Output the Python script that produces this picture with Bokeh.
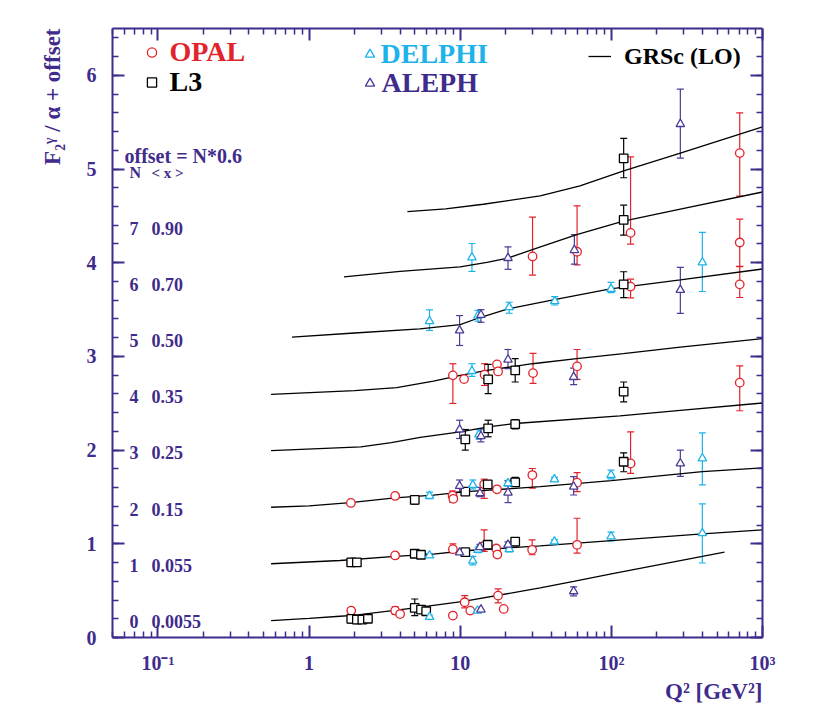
import math
from bokeh.plotting import figure
from bokeh.models import (ColumnDataSource, Whisker, TeeHead, Label, Legend, LegendItem, Title,
                          LinearAxis, LogAxis, FixedTicker, SingleIntervalTicker, Range1d,
                          CustomJSTickFormatter)
from bokeh.core.properties import value
from bokeh.embed import file_html
from bokeh.resources import INLINE

# ---------------- data (F2/alpha + offset, offset = N*0.6) ----------------
opal_q2 = [707, 30.1, 59.3, 134, 707, 134, 707,
           8.94, 10.6, 14.5, 17.5, 17.8, 30.3, 59.3, 707,
           1.89, 3.71, 8.9, 9.0, 14.4, 17.5, 30.0, 59.3, 134,
           1.9, 3.71, 8.94, 14.4, 17.3, 17.6, 29.9, 59.3,
           1.9, 2.05, 3.71, 4.0, 8.94, 10.7, 11.65, 17.8, 19.4]
opal_f2 = [5.17, 4.067, 4.117, 4.319, 4.216, 3.745, 3.769,
           2.798, 2.758, 2.805, 2.915, 2.84, 2.822, 2.894, 2.72,
           1.436, 1.511, 1.514, 1.48, 1.635, 1.582, 1.734, 1.652, 1.858,
           0.801, 0.876, 0.943, 0.979, 0.95, 0.885, 0.936, 0.989,
           0.287, 0.19, 0.287, 0.25, 0.234, 0.376, 0.287, 0.447, 0.305]
opal_eup = [0.43, 0.42, 0.49, 0.81, 0.25, 0.08, 0.19,
            0.124, 0, 0.117, 0, 0, 0.21, 0.18, 0.18,
            0, 0, 0.05, 0, 0.055, 0, 0.07, 0.107, 0.337,
            0, 0, 0.057, 0.17, 0, 0.03, 0.107, 0.284,
            0.03, 0, 0.04, 0, 0, 0.071, 0, 0.071, 0]
opal_edn = [0.46, 0.20, 0.14, 0.12, 0.255, 0.12, 0.14,
            0.30, 0, 0.115, 0, 0, 0.11, 0.14, 0.30,
            0, 0, 0.07, 0, 0.15, 0, 0.14, 0.096, 0.106,
            0, 0, 0.04, 0.06, 0, 0.03, 0.053, 0.088,
            0.03, 0, 0.04, 0, 0, 0.06, 0, 0.078, 0]

l3_q2 = [120.6, 120.6, 120.6,
         15.3, 23.1, 120.6,
         10.8, 15.3, 23.1,
         5.0, 10.8, 15.2, 23.1, 120.6,
         1.9, 2.07, 5.0, 5.5, 10.8, 15.2, 23.1,
         1.9, 2.07, 2.25, 2.45, 5.0, 5.5, 5.95]
l3_f2 = [5.114, 4.457, 3.769,
         2.755, 2.851, 2.624,
         2.114, 2.231, 2.277,
         1.468, 1.556, 1.635, 1.656, 1.876,
         0.801, 0.801, 0.894, 0.883, 0.911, 0.99, 1.024,
         0.199, 0.19, 0.19, 0.20, 0.316, 0.298, 0.28]
l3_eup = [0.213, 0.157, 0.135,
          0.16, 0.125, 0.103,
          0.106, 0.088, 0.05,
          0.045, 0, 0.04, 0.053, 0.095,
          0, 0, 0, 0, 0, 0, 0.036,
          0.035, 0, 0, 0, 0.095, 0, 0]
l3_edn = [0.207, 0.162, 0.141,
          0.152, 0.124, 0.11,
          0.114, 0.089, 0.05,
          0.045, 0, 0.04, 0.04, 0.107,
          0, 0, 0, 0, 0, 0, 0.046,
          0.043, 0, 0, 0, 0.082, 0, 0]

delphi_q2 = [11.95,
             6.26, 13.1, 21.1, 42.2, 99.5, 400,
             11.95, 13.3,
             6.26, 12.1, 20.7, 42.0, 99.5, 400,
             6.26, 12.1, 13.1, 21.1, 42.0, 99.5, 400,
             6.26, 13.0]
delphi_f2 = [4.056,
             3.376, 3.436, 3.525, 3.589, 3.72, 4.003,
             2.844, 2.167,
             1.511, 1.628, 1.646, 1.688, 1.734, 1.912,
             0.876, 0.819, 0.936, 0.943, 1.024, 1.078, 1.113,
             0.22, 0.287]
delphi_eup = [0.149,
              0.121, 0.055, 0.053, 0.05, 0.07, 0.32,
              0.078, 0.05,
              0.04, 0.053, 0.03, 0.02, 0.053, 0.272,
              0.02, 0.046, 0.03, 0.03, 0.02, 0.046, 0.313,
              0.02, 0]
delphi_edn = [0.149,
              0.099, 0.06, 0.064, 0.04, 0.04, 0.31,
              0.057, 0.05,
              0.03, 0.043, 0.03, 0.02, 0.04, 0.284,
              0.02, 0.043, 0.03, 0.03, 0.02, 0.046, 0.318,
              0.02, 0]

aleph_q2 = [286,
            20.7, 56.9,
            9.9, 13.7, 286,
            20.7, 56.3,
            9.9, 13.7,
            9.9, 13.5, 20.7, 56.3, 286,
            9.9, 13.5, 20.7,
            13.7, 56.3]
aleph_f2 = [5.48,
            4.05, 4.135,
            3.277, 3.443, 3.709,
            2.965, 2.78,
            2.22, 2.149,
            1.617, 1.539, 1.546, 1.61, 1.858,
            0.907, 0.965, 0.99,
            0.298, 0.493]
aleph_eup = [0.374,
             0.12, 0.166,
             0.159, 0.056, 0.241,
             0.109, 0.096,
             0.099, 0.078,
             0.064, 0.064, 0.124, 0.106, 0.142,
             0, 0.03, 0.03,
             0, 0.047]
aleph_edn = [0.363,
             0.12, 0.15,
             0.16, 0.079, 0.249,
             0.096, 0.08,
             0.096, 0.061,
             0.062, 0.036, 0.106, 0.089, 0.138,
             0, 0.03, 0.03,
             0, 0.048]

# GRSc (LO) curves, N = 0..7
grsc0_q2 = [0.56, 1.0, 1.6, 1.97, 5.0, 10.5, 33.8, 56.3, 100, 400, 560]
grsc0_f2 = [0.181, 0.205, 0.227, 0.237, 0.316, 0.385, 0.529, 0.599, 0.68, 0.865, 0.912]
grsc1_q2 = [0.56, 1.6, 3.7, 6.65, 10.7, 33.8, 100, 400, 1000]
grsc1_f2 = [0.787, 0.822, 0.866, 0.89, 0.926, 0.978, 1.035, 1.106, 1.149]
grsc2_q2 = [0.56, 1.0, 1.87, 3.7, 6.65, 11, 33.8, 100, 400, 1000]
grsc2_f2 = [1.39, 1.405, 1.44, 1.49, 1.52, 1.556, 1.61, 1.675, 1.77, 1.81]
grsc3_q2 = [0.56, 2.2, 3.5, 5.43, 10, 15.3, 23, 114, 286, 1000]
grsc3_f2 = [1.995, 2.035, 2.08, 2.135, 2.195, 2.248, 2.284, 2.365, 2.425, 2.503]
grsc4_q2 = [0.56, 2.0, 3.8, 6.65, 10, 15, 30, 59, 120, 286, 1000]
grsc4_f2 = [2.596, 2.635, 2.667, 2.737, 2.798, 2.851, 2.922, 2.976, 3.03, 3.10, 3.19]
grsc5_q2 = [0.77, 2.0, 5.4, 10, 13.2, 20.7, 42, 98.6, 286, 1000]
grsc5_f2 = [3.205, 3.25, 3.294, 3.34, 3.41, 3.507, 3.606, 3.72, 3.816, 3.933]
grsc6_q2 = [1.7, 4.0, 10, 15, 20.7, 30, 59, 120, 286, 1000]
grsc6_f2 = [3.85, 3.907, 3.955, 4.003, 4.05, 4.14, 4.30, 4.445, 4.571, 4.755]
grsc7_q2 = [4.47, 8.0, 14.2, 33.8, 62, 120.6, 286, 1000]
grsc7_f2 = [4.546, 4.575, 4.624, 4.713, 4.82, 4.98, 5.17, 5.45]

n_values = [0, 1, 2, 3, 4, 5, 6, 7]
x_means = ["0.0055", "0.055", "0.15", "0.25", "0.35", "0.50", "0.70", "0.90"]
offset_step = 0.6

xtick_vals = [0.1, 1, 10, 100, 1000]
xtick_text = ["10\u207b\u00b9", "1", "10", "10\u00b2", "10\u00b3"]

# ---------------- styles ----------------
SERIF = "Liberation Serif"
PURPLE = "#3f2b8c"
RED = "#e3232b"
CYAN = "#1db3ea"
ALEPH_C = "#4b3b96"
FL, FR, FT, FB = 112, 762, 28, 637  # frame edges in canvas px

p = figure(width=822, height=704, x_axis_type="log",
           x_range=Range1d(0.05, 1000), y_range=Range1d(0, 6.5),
           min_border_left=FL, min_border_right=822 - FR,
           min_border_top=FT, min_border_bottom=704 - FB,
           toolbar_location=None, output_backend="svg")
p.grid.visible = False
p.outline_line_color = None
p.background_fill_color = "white"
p.border_fill_color = "white"

minor = [m * 10.0 ** e for e in range(-2, 3) for m in range(2, 10) if m * 10.0 ** e >= 0.05]
xt = FixedTicker(ticks=xtick_vals, minor_ticks=minor)
yt = SingleIntervalTicker(interval=1, num_minor_ticks=5)
blank = CustomJSTickFormatter(code="return ''")
xfmt = CustomJSTickFormatter(args=dict(vals=xtick_vals, labs=xtick_text), code="""
for (let i = 0; i < vals.length; i++) {
  if (Math.abs(Math.log10(vals[i]) - Math.log10(tick)) < 1e-6) { return labs[i] }
}
return ''
""")


def style_axis(ax):
    ax.axis_line_color = PURPLE
    ax.axis_line_width = 2
    ax.major_tick_line_color = PURPLE
    ax.major_tick_line_width = 2
    ax.minor_tick_line_color = PURPLE
    ax.minor_tick_line_width = 1.5
    ax.major_tick_in = 12
    ax.major_tick_out = 0
    ax.minor_tick_in = 6
    ax.minor_tick_out = 0
    ax.major_label_text_font = SERIF
    ax.major_label_text_font_style = "bold"
    ax.major_label_text_font_size = "20px"
    ax.major_label_text_color = PURPLE


p.xaxis[0].ticker = xt
p.yaxis[0].ticker = yt
style_axis(p.xaxis[0])
style_axis(p.yaxis[0])
p.xaxis[0].formatter = xfmt
p.xaxis[0].major_label_standoff = 14
p.yaxis[0].major_label_standoff = 16

top = LogAxis(ticker=xt, formatter=blank)
style_axis(top)
p.add_layout(top, "above")
right = LinearAxis(ticker=yt, formatter=blank)
style_axis(right)
p.add_layout(right, "right")

# axis titles
xtitle = Title(text="Q\u00b2 [GeV\u00b2]", align="right", text_font=SERIF, text_font_style="bold",
               text_font_size="23px", text_color=PURPLE, standoff=0, offset=0)
p.add_layout(xtitle, "below")
ytitle = Title(text="F\u2082\u1d5e / \u03b1 + offset", align="right", text_font=SERIF,
               text_font_style="bold", text_font_size="23px", text_color=PURPLE,
               standoff=38, offset=0)
p.add_layout(ytitle, "left")

# curves
curves = [(grsc0_q2, grsc0_f2), (grsc1_q2, grsc1_f2), (grsc2_q2, grsc2_f2), (grsc3_q2, grsc3_f2),
          (grsc4_q2, grsc4_f2), (grsc5_q2, grsc5_f2), (grsc6_q2, grsc6_f2), (grsc7_q2, grsc7_f2)]
curve_renderer = None
for q, f in curves:
    r = p.line(q, f, line_color="black", line_width=1.3)
    if curve_renderer is None:
        curve_renderer = r


def experiment(q2, f2, eup, edn, marker, color, size):
    lo = [f - d for f, d in zip(f2, edn)]
    hi = [f + u for f, u in zip(f2, eup)]
    keep = [i for i in range(len(q2)) if eup[i] > 0 or edn[i] > 0]
    wsrc = ColumnDataSource(dict(x=[q2[i] for i in keep], lower=[lo[i] for i in keep],
                                 upper=[hi[i] for i in keep]))
    w = Whisker(source=wsrc, base="x", lower="lower", upper="upper", dimension="height",
                line_color=color, line_width=1.2, level="underlay",
                upper_head=TeeHead(size=7, line_color=color, line_width=1.2),
                lower_head=TeeHead(size=7, line_color=color, line_width=1.2))
    p.add_layout(w)
    src = ColumnDataSource(dict(x=q2, y=f2))
    return p.scatter("x", "y", source=src, marker=marker, size=size, line_color=color,
                     line_width=1.3, fill_color="white")


r_opal = experiment(opal_q2, opal_f2, opal_eup, opal_edn, "circle", RED, 8.5)
r_l3 = experiment(l3_q2, l3_f2, l3_eup, l3_edn, "square", "black", 8.5)
r_delphi = experiment(delphi_q2, delphi_f2, delphi_eup, delphi_edn, "triangle", CYAN, 8.5)
r_aleph = experiment(aleph_q2, aleph_f2, aleph_eup, aleph_edn, "triangle", ALEPH_C, 8.5)


# legends
def add_legend(label, rend, color, x_left, y_center, gw, standoff, fsize):
    gh = 28
    leg = Legend(items=[LegendItem(label=value(label), renderers=[rend])],
                 location=(x_left - FL, FB - (y_center + gh / 2)),
                 padding=0, margin=0, spacing=0, glyph_width=gw, glyph_height=gh,
                 label_height=gh, label_standoff=standoff,
                 label_text_font=SERIF, label_text_font_style="bold",
                 label_text_font_size=fsize, label_text_color=color,
                 border_line_color=None, background_fill_alpha=0)
    p.add_layout(leg)


add_legend("OPAL", r_opal, RED, 139.5, 54, 23, 7, "28px")
add_legend("L3", r_l3, "black", 139.5, 83.5, 23, 7, "28px")
add_legend("DELPHI", r_delphi, CYAN, 357.5, 55.5, 23, 0, "28px")
add_legend("ALEPH", r_aleph, PURPLE, 357.5, 84.5, 23, 1, "28px")
add_legend("GRSc (LO)", curve_renderer, "black", 588, 56, 23, 13, "24px")


def lab(px, py, text, size, color=PURPLE, baseline="alphabetic"):
    p.add_layout(Label(x=px - FL, y=FB - py, x_units="screen", y_units="screen", text=text,
                       text_font=SERIF, text_font_style="bold", text_font_size=size,
                       text_color=color, text_align="left", text_baseline=baseline))


# offset annotation
lab(124, 155, "offset = N*0.6", "20px")
lab(129, 172, "N", "16px", baseline="middle")
lab(151, 172, "< x >", "15px", baseline="middle")
for n, xm in zip(n_values, x_means):
    yv = n * offset_step + 0.17
    p.add_layout(Label(x=129 - FL, y=yv, x_units="screen", y_units="data", text=str(n),
                       text_font=SERIF, text_font_style="bold", text_font_size="18px",
                       text_color=PURPLE, text_align="left", text_baseline="middle"))
    p.add_layout(Label(x=151 - FL, y=yv, x_units="screen", y_units="data", text=xm,
                       text_font=SERIF, text_font_style="bold", text_font_size="18px",
                       text_color=PURPLE, text_align="left", text_baseline="middle"))

open("out.html", "w").write(file_html(p, INLINE))
